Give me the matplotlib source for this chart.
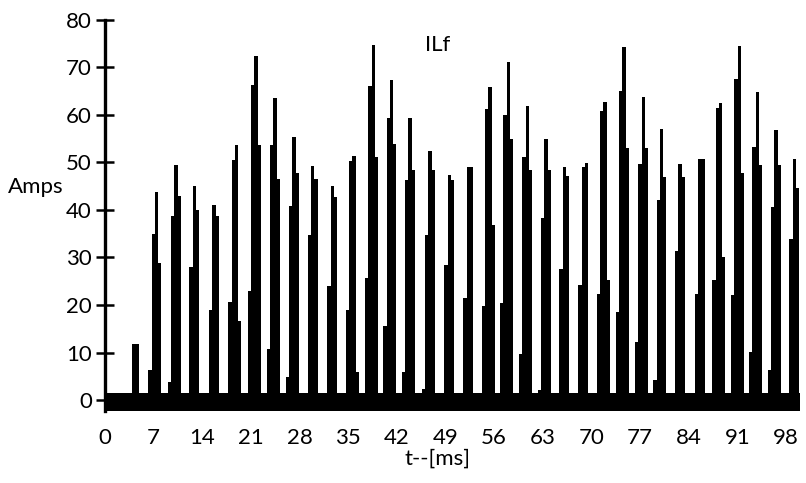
import numpy as np
import matplotlib.pyplot as plt

plt.rcParams['font.family'] = ['Lato', 'DejaVu Sans']

# start time [ms] of each current pulse (first sample), and the samples in it [A]
pulse_t = [3.88, 6.23, 9.02, 12.13, 14.96, 17.74, 20.53, 23.27, 26.0, 29.17,
           31.99, 34.63, 37.41, 40.04, 42.69, 45.57, 48.82, 51.55, 54.2, 56.83,
           59.57, 62.26, 65.37, 68.1, 70.75, 73.48, 76.26, 78.89, 82.01, 84.89,
           87.38, 90.07, 92.66, 95.35, 98.46]
pulse_amps = [
    [11.7, 11.7],
    [6.3, 35, 43.8, 28.8],
    [3.8, 38.8, 49.4, 42.8],
    [28, 45, 40],
    [19, 41, 38.7],
    [20.6, 50.5, 53.7, 16.6],
    [23, 66.2, 72.4, 53.6],
    [10.8, 53.6, 63.4, 46.5],
    [4.9, 40.9, 55.2, 47.7],
    [34.6, 49.3, 46.5],
    [23.9, 44.9, 42.7],
    [18.9, 50.3, 51.4, 5.9],
    [25.7, 66.1, 74.7, 51.2],
    [15.5, 59.2, 67.3, 53.8],
    [5.9, 46.3, 59.2, 48.4],
    [2.4, 34.6, 52.3, 48.4],
    [28.3, 47.3, 46.3],
    [21.5, 49.1, 49.1],
    [19.8, 61.2, 65.9, 36.9],
    [20.4, 60, 71, 54.9],
    [9.7, 51, 61.9, 48.4],
    [2.2, 38.3, 54.9, 48.3],
    [27.6, 49, 47.2],
    [24.1, 49, 49.8],
    [22.4, 60.8, 62.7, 25.3],
    [18.5, 64.9, 74.3, 53],
    [12.2, 49.7, 63.8, 53],
    [4.2, 42, 57, 47],
    [31.3, 49.7, 47],
    [22.2, 50.7, 50.7],
    [25.2, 61.3, 62.5, 30],
    [22, 67.5, 74.5, 47.7],
    [10.1, 53.3, 64.7, 49.5],
    [6.3, 40.6, 56.8, 49.5],
    [33.9, 50.6, 44.5],
]
sample_dt = 0.47
band_lo, band_hi = -2.3, 1.5

xticks = list(range(0, 99, 7))
yticks = list(range(0, 81, 10))

t_bar = []
a_bar = []
for t0, amps in zip(pulse_t, pulse_amps):
    for k, a in enumerate(amps):
        t_bar.append(t0 + k * sample_dt)
        a_bar.append(a)

fig = plt.figure(figsize=(8.06, 4.83), dpi=100)
ax = fig.add_axes([0.1303, 0.149, 0.8623, 0.8106])

ax.axhspan(band_lo, band_hi, color='black', lw=0)
ax.bar(t_bar, a_bar, width=sample_dt, align='edge', color='black', lw=0)

ax.set_xlim(0, 100)
ax.set_ylim(band_lo, 80)
ax.set_xticks(xticks)
ax.set_yticks(yticks)

for s in ['top', 'right', 'bottom']:
    ax.spines[s].set_visible(False)
ax.spines['left'].set_linewidth(2.4)

ax.tick_params(axis='y', direction='inout', length=13, width=1.8, pad=3, labelsize=16)
ax.tick_params(axis='x', length=0, pad=12, labelsize=16)

ax.set_ylabel("Amps", rotation=0, fontsize=16, va='center')
ax.yaxis.set_label_coords(-0.1, 0.572)
ax.set_xlabel("t--[ms]", fontsize=16)
ax.xaxis.set_label_coords(0.478, -0.095)
ax.text(0.478, 0.935, "ILf", transform=ax.transAxes, ha='center', va='center', fontsize=16)

plt.savefig("out.png", dpi=100)
